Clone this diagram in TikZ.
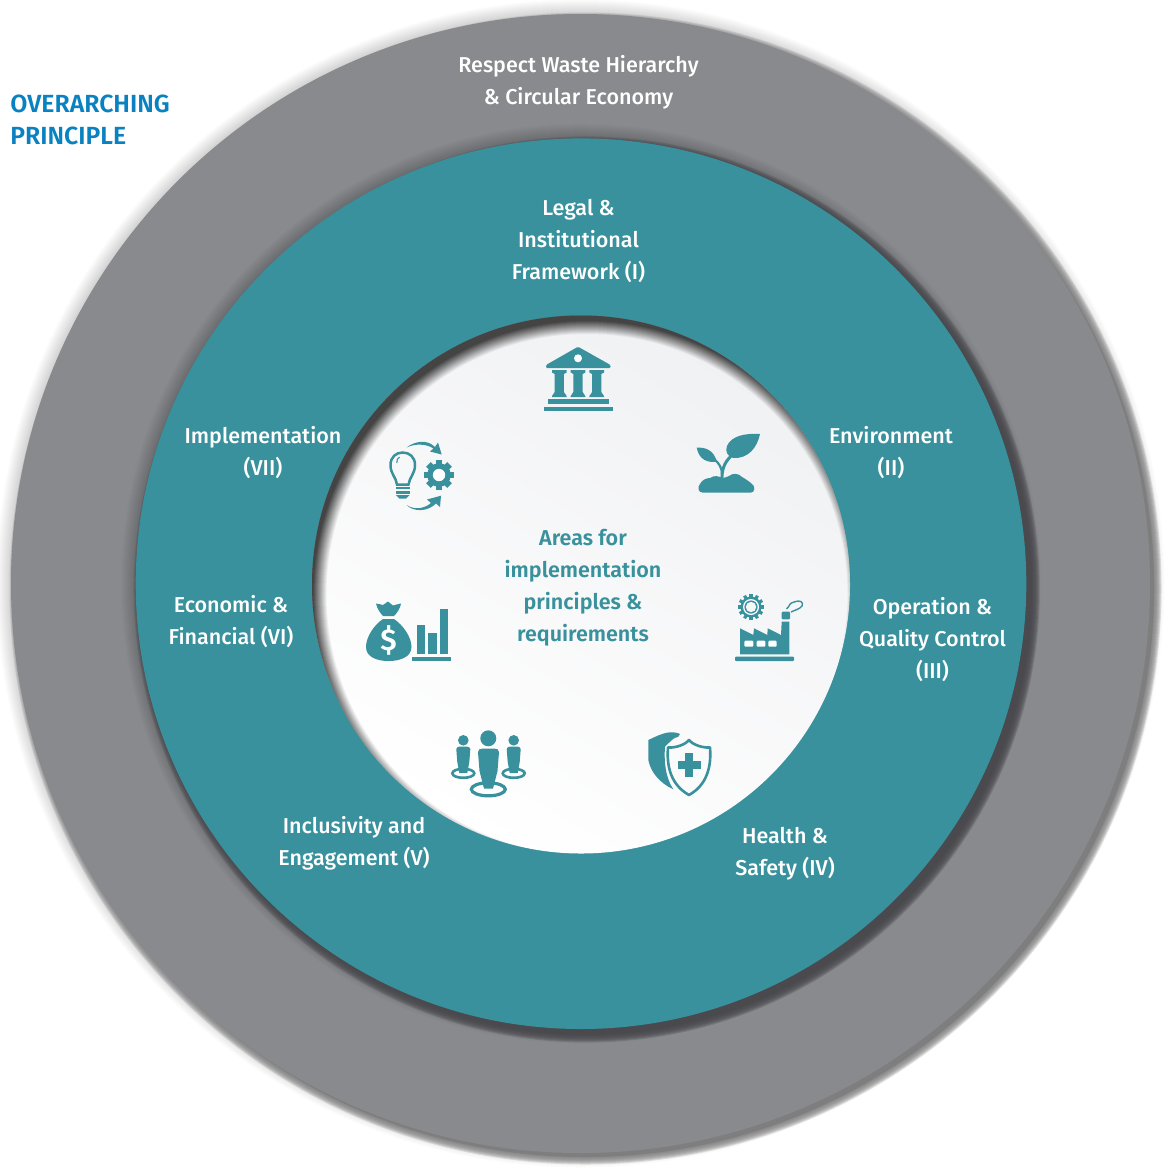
\documentclass[tikz,border=0pt]{standalone}
\usepackage{fontspec}
\setmainfont{Fira Sans}
\newfontfamily\labelfont{Fira Sans Medium}
\newfontfamily\boldlabelfont{Fira Sans SemiBold}
\definecolor{tealc}{HTML}{38919C}
\definecolor{greyc}{HTML}{898A8D}
\definecolor{bluec}{HTML}{0A82C1}
\definecolor{bandc}{HTML}{7E7E7F}
\definecolor{darkc}{HTML}{4A4A4E}
\definecolor{innerdark}{HTML}{3C3C3C}
\definecolor{lightc}{HTML}{F0F1F3}
\tikzset{
  lab/.style={text=white,align=center,inner sep=0pt,font=\labelfont\fontsize{10.75}{16}\selectfont},
  midlab/.style={text=tealc,align=center,inner sep=0pt,font=\boldlabelfont\fontsize{10.75}{16}\selectfont},
  principle/.style={text=bluec,align=left,anchor=west,inner sep=0pt,font=\boldlabelfont\fontsize{12.4}{16}\selectfont},
  icon/.style={fill=tealc,draw=none},
  iconline/.style={draw=tealc,fill=none},
  cutout/.style={fill=white,draw=none}
}
\newcommand{\cogwheel}[6]{% cx cy toothR bodyR count toothhalfwidth
  \fill[icon] (#1,#2) circle (#4);
  \foreach \ang in {1,...,#5}{
    \fill[icon,rotate around={\ang*360/#5:(#1,#2)}] (#1-#6,#2-#3) rectangle (#1+#6,#2);
  }
}
\begin{document}
\begin{tikzpicture}[x=0.5pt,y=-0.5pt]
\useasboundingbox (0,0) rectangle (1171,1168);
% outer halo and offset band
\foreach \r in {584,583,...,569}{\fill[black,opacity=.012] (580.5,583.5) circle (\r);}
\foreach \r in {576,575,...,569}{\fill[bandc,opacity=.22] (585.5,588.5) circle (\r);}
\fill[bandc] (585.5,588.5) circle (568.5);
\fill[greyc] (580.5,583.5) circle (569.5);
% teal glow and shadow
\foreach \r in {460,459,...,446}{\fill[black,opacity=.011] (581,583.7) circle (\r);}
\foreach \r in {453,452,...,446}{\fill[darkc,opacity=.26] (586.7,589.4) circle (\r);}
\fill[darkc] (586.7,589.4) circle (445);
\fill[tealc] (581,583.7) circle (445.3);
% inner disc
\begin{scope}
  \clip (581,584.5) circle (269);
  \shade[top color=lightc,bottom color=white,shading angle=-30] (581,584.5) circle (270);
  \foreach \j in {1,...,14}{
    \pgfmathsetmacro\rr{259.5+\j}
    \pgfmathsetmacro\aa{.95/(14-.95*(\j-1))}
    \fill[innerdark,opacity=\aa,even odd rule] (587,594.5) circle (\rr) (587,594.5) circle (330);
  }
\end{scope}
% outer labels
\node[lab] (waste) at (578.5,82) {Respect Waste Hierarchy\\\& Circular Economy};
\node[principle] (overarch) at (10,119.5) {OVERARCHING\\PRINCIPLE};
\node[lab] (legal) at (578.5,241) {Legal \&\\Institutional\\Framework (I)};
\node[lab] (env) at (891,453) {Environment\\(II)};
\node[lab] (oper) at (932.5,640) {Operation \&\\Quality Control\\(III)};
\node[lab] (health) at (785,854) {Health \&\\Safety (IV)};
\node[lab] (incl) at (354,843) {Inclusivity and\\Engagement (V)};
\node[lab] (econ) at (231,622) {Economic \&\\Financial (VI)};
\node[lab] (impl) at (263,453) {Implementation\\(VII)};
\node[midlab] (areas) at (583,587.5) {Areas for\\implementation\\principles \&\\requirements};
% --- bank
\fill[icon,rounded corners=0.6pt] (578,346.7) -- (610.5,365) -- (610.5,368) -- (546,368) -- (546,365) -- cycle;
\fill[cutout] (578,358.3) circle (4);
\foreach \cx in {559.3,578,596.7}{
  \fill[icon] (\cx-7.3,370) -- (\cx+7.3,370) -- (\cx+7.3,372.5) -- (\cx+4.6,374) -- (\cx+4.6,392) -- (\cx+7.3,396) -- (\cx+7.3,397) -- (\cx-7.3,397) -- (\cx-7.3,396) -- (\cx-4.6,392) -- (\cx-4.6,374) -- (\cx-7.3,372.5) -- cycle;
}
\fill[icon] (548,399.3) rectangle (608.7,404);
\fill[icon] (544,406.7) rectangle (612.7,411);
% --- plant
\fill[icon] (760,434) .. controls (745,433) and (731,436) .. (727,446) .. controls (725,451) and (727,456) .. (733,458) .. controls (748,459) and (757,448) .. (760,434) -- cycle;
\fill[icon] (696.7,447.7) .. controls (705,447) and (714,450) .. (716.7,461.7) .. controls (708,463) and (699,460) .. (696.7,447.7) -- cycle;
\draw[iconline,line width=1.5pt] (722,481) .. controls (721.5,470) and (724,463) .. (731,456);
\draw[iconline,line width=1.1pt] (722,474) .. controls (722,468) and (719,463) .. (714,459);
\fill[icon] (703,492.7) -- (750.7,492.7) .. controls (755,492.7) and (756,486) .. (751,483) .. controls (747,480) and (744,478) .. (742,477) .. controls (739,473) and (732,473) .. (729,476) .. controls (726,477) and (725,478) .. (722,478) .. controls (719,476) and (714,475) .. (710,478) .. controls (706,478) and (702,480) .. (700,484) .. controls (697,487) and (698,492.7) .. (703,492.7) -- cycle;
% --- factory
\cogwheel{751}{607}{13}{10.5}{12}{1.6}
\fill[cutout] (751,607) circle (8);
\fill[icon] (751,607) circle (6.6);
\fill[black!3!white] (751,607) circle (5.2);
\fill[icon] (740,628.3) -- (753.3,635) -- (754,628.3) -- (767.3,635) -- (767.7,628.3) -- (781,635) -- (781.7,621.7) -- (789.3,621.7) -- (789.3,654.3) -- (740,654.3) -- cycle;
\fill[cutout,rounded corners=0.5pt] (744.3,640.7) rectangle (753.3,646.7);
\fill[cutout,rounded corners=0.5pt] (756.7,640.7) rectangle (765.3,646.7);
\fill[cutout,rounded corners=0.5pt] (768.3,640.7) rectangle (776.7,646.7);
\fill[icon,rounded corners=0.5pt] (735,656.7) rectangle (794,661);
\fill[icon,rounded corners=0.5pt] (781.7,611.7) rectangle (790,619.3);
\draw[iconline,line width=0.7pt] (786.5,609) .. controls (790,606) and (789,603) .. (794,602) .. controls (800,599.5) and (804,602) .. (802,606) .. controls (800,609) and (795,610) .. (791,612);
% --- shield
\fill[icon] (648.3,740) .. controls (655,737) and (662,733) .. (670,732.3) .. controls (674,732) and (678,733) .. (680,734) -- (678.3,736.7) .. controls (673,737.5) and (670,742) .. (665,746.7) .. controls (664,760) and (665,777) .. (673.3,789.3) .. controls (660,783) and (651,773) .. (648.3,760) -- cycle;
\draw[iconline,line width=1.3pt,line join=round] (689,740) .. controls (685,745) and (675,748) .. (668,747.5) .. controls (667,760) and (667.5,783) .. (689,795) .. controls (710.5,783) and (711,760) .. (710,747.5) .. controls (703,748) and (693,745) .. (689,740) -- cycle;
\fill[icon] (685.3,753.3) rectangle (693.3,776.7);
\fill[icon] (677.6,761) rectangle (701,769);
% --- people
\draw[iconline,line width=1.6pt] (488.3,789.3) ellipse [x radius=17,y radius=6.5];
\draw[iconline,line width=1.3pt] (463.3,773.3) ellipse [x radius=11,y radius=4.5];
\draw[iconline,line width=1.3pt] (513.7,773.3) ellipse [x radius=11,y radius=4.5];
\fill[icon] (488.3,738.3) circle (8);
\fill[icon] (463.3,740.3) circle (5.3);
\fill[icon] (513.7,740.3) circle (5.3);
\fill[icon] (478,752) .. controls (478,749.5) and (480,748.5) .. (483,748.5) -- (494,748.5) .. controls (497,748.5) and (499,749.5) .. (499,752) -- (497.5,771) -- (493,788.5) -- (484,788.5) -- (479.5,771) -- cycle;
\foreach \cx in {463.3,513.7}{
  \fill[icon] (\cx-7,749) .. controls (\cx-7,747.2) and (\cx-5,746.5) .. (\cx-3,746.5) -- (\cx+3,746.5) .. controls (\cx+5,746.5) and (\cx+7,747.2) .. (\cx+7,749) -- (\cx+6,762) -- (\cx+4,773) -- (\cx-4,773) -- (\cx-6,762) -- cycle;
}
% --- money
\fill[icon] (376,603.5) .. controls (379,603.5) and (381,605) .. (383,605) -- (388,601.5) -- (393,605.5) .. controls (395,605) and (398,604) .. (401,603.5) .. controls (400.5,608) and (397,613) .. (394,616) -- (383,616) .. controls (380,613) and (377,608) .. (376,603.5) -- cycle;
\fill[icon] (383,619) -- (394,619) .. controls (403,625) and (411.5,637) .. (411.5,647) .. controls (411.5,657) and (400,661) .. (388.5,661) .. controls (377,661) and (366,657) .. (366,647) .. controls (366,637) and (374,625) .. (383,619) -- cycle;
\node[text=white,inner sep=0pt,font=\boldlabelfont\fontsize{15}{15}\selectfont] (dollar) at (388.5,640) {\$};
\fill[icon] (416.7,625) rectangle (424.7,654);
\fill[icon] (428.3,633.3) rectangle (436.7,654);
\fill[icon] (440,609.3) rectangle (448.3,654);
\fill[icon] (412.3,656.7) rectangle (450.7,660.7);
% --- bulb, gear, arrows
\draw[iconline,line width=1.25pt] (397,484.5) .. controls (396,477) and (390.5,474) .. (390.5,465) .. controls (390.5,457) and (396,452.5) .. (402.7,452.5) .. controls (409.5,452.5) and (415,457) .. (415,465) .. controls (415,474) and (409.5,477) .. (408.5,484.5) -- cycle;
\draw[iconline,line width=0.55pt] (396.8,463) .. controls (396.6,460) and (397.5,458) .. (399.5,457);
\fill[icon] (396,486.7) rectangle (409.5,489.3);
\fill[icon] (396,490.9) rectangle (409.5,493.5);
\fill[icon] (396,495) -- (409.5,495) -- (406,498.5) -- (399.5,498.5) -- cycle;
\cogwheel{439}{475}{15}{11.8}{8}{3.3}
\fill[cutout] (439,475) circle (6.2);
\fill[icon] (406.5,447.5) .. controls (415,441) and (427,439) .. (435,447) -- (438,442.5) -- (441.7,454.5) -- (430,451.5) -- (433.5,448.5) .. controls (426,443.5) and (415,443.5) .. (406.5,447.5) -- cycle;
\fill[icon] (406.5,505) .. controls (414,510) and (424,509) .. (431,503) -- (427,499.5) -- (441,495.7) -- (440,507) -- (436,503.5) .. controls (428,511.5) and (414,512.5) .. (406.5,505) -- cycle;
\end{tikzpicture}
\end{document}
